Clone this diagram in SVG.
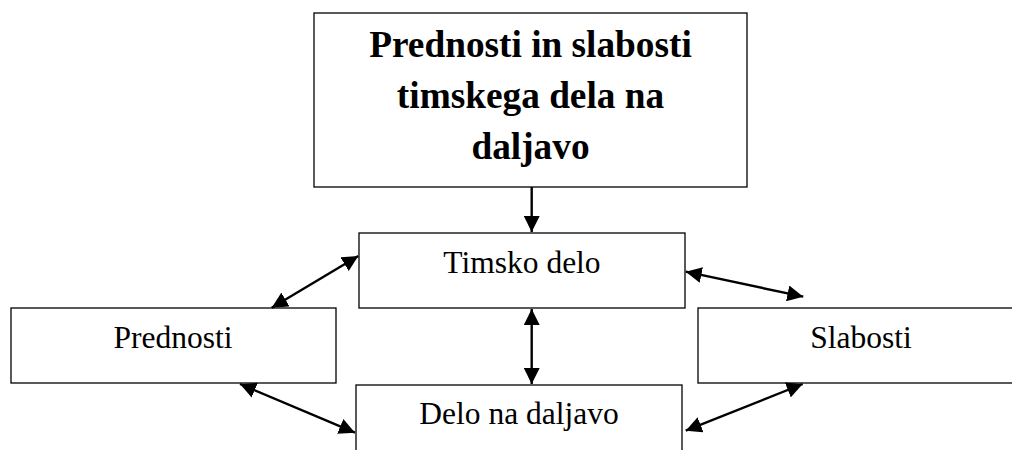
<svg xmlns="http://www.w3.org/2000/svg" width="1012" height="450" viewBox="0 0 1012 450">
<style>
.box{fill:#fff;stroke:#000;stroke-width:1.3}
.t{font-family:"Liberation Serif","Times New Roman",serif;font-size:31.5px;fill:#000;text-anchor:middle}
.tb{font-family:"Liberation Serif","Times New Roman",serif;font-size:37.3px;font-weight:bold;fill:#000;text-anchor:middle}
.c{stroke:#000;stroke-width:2.4;fill:none}
</style>
<defs>
<marker id="ah" markerUnits="userSpaceOnUse" markerWidth="16" markerHeight="16" viewBox="0 0 16 16" refX="16" refY="8" orient="auto-start-reverse">
<path d="M0,0 L16,8 L0,16 z" fill="#000"/>
</marker>
</defs>
<rect width="1012" height="450" fill="#fff"/>
<g id="title">
<rect class="box" x="314" y="13" width="433" height="174"/>
<text class="tb" x="530.5" y="57">Prednosti in slabosti</text>
<text class="tb" x="530.5" y="108">timskega dela na</text>
<text class="tb" x="530.5" y="159">daljavo</text>
</g>
<g id="timsko">
<rect class="box" x="359" y="233" width="326" height="75"/>
<text class="t" x="522" y="273">Timsko delo</text>
</g>
<g id="prednosti">
<rect class="box" x="11" y="308" width="325" height="75"/>
<text class="t" x="173" y="348">Prednosti</text>
</g>
<g id="slabosti">
<rect class="box" x="698" y="308" width="326" height="75"/>
<text class="t" x="861" y="348">Slabosti</text>
</g>
<g id="delo">
<rect class="box" x="356" y="385" width="326" height="75"/>
<text class="t" x="519" y="424">Delo na daljavo</text>
</g>
<g id="connectors">
<line class="c" x1="531.7" y1="187" x2="531.7" y2="232" marker-end="url(#ah)"/>
<line class="c" x1="531.7" y1="309" x2="531.7" y2="384" marker-start="url(#ah)" marker-end="url(#ah)"/>
<line class="c" x1="271.7" y1="307.7" x2="358.3" y2="256" marker-start="url(#ah)" marker-end="url(#ah)"/>
<line class="c" x1="240" y1="384" x2="355" y2="432.7" marker-start="url(#ah)" marker-end="url(#ah)"/>
<line class="c" x1="685.7" y1="271.7" x2="803.3" y2="296.7" marker-start="url(#ah)" marker-end="url(#ah)"/>
<line class="c" x1="802.7" y1="384" x2="685.7" y2="430.7" marker-start="url(#ah)" marker-end="url(#ah)"/>
</g>
</svg>
